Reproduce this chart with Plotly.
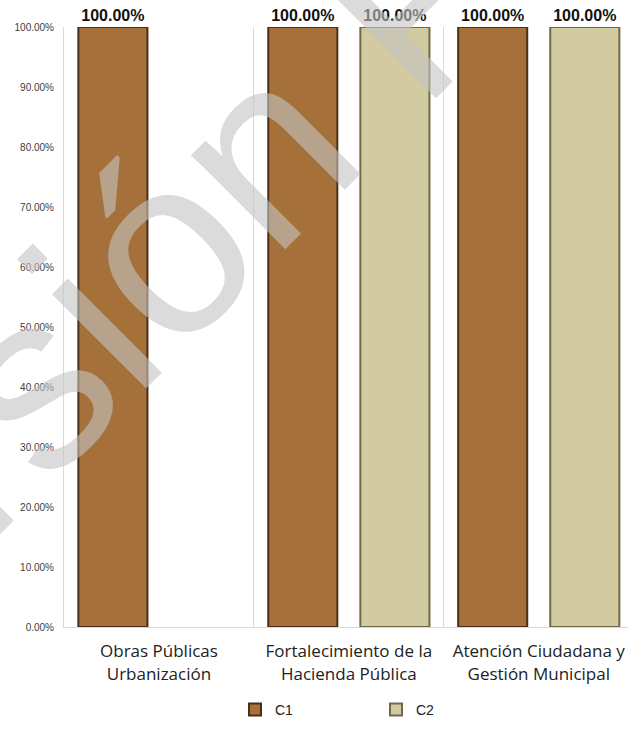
import plotly.graph_objects as go

categories = ["Obras Públicas<br>Urbanización",
              "Fortalecimiento de la<br>Hacienda Pública",
              "Atención Ciudadana y<br>Gestión Municipal"]
c1_values = [1.0, 1.0, 1.0]
c2_values = [None, 1.0, 1.0]
series_names = ["C1", "C2"]
y_ticks = [0, 0.1, 0.2, 0.3, 0.4, 0.5, 0.6, 0.7, 0.8, 0.9, 1.0]
y_tick_labels = ["0.00%", "10.00%", "20.00%", "30.00%", "40.00%", "50.00%",
                 "60.00%", "70.00%", "80.00%", "90.00%", "100.00%"]
watermark = "Versión Pública"

def labels(vals):
    return ["" if v is None else f"{v*100:.2f}%" for v in vals]

fig = go.Figure()
fig.add_trace(go.Bar(
    x=categories, y=c1_values, name=series_names[0],
    marker=dict(color="#A6703A", line=dict(color="#4A2F15", width=2)),
    text=labels(c1_values), textposition="outside", cliponaxis=False,
    textfont=dict(family="Liberation Sans", size=16, color="#111111"),
))
fig.add_trace(go.Bar(
    x=categories, y=c2_values, name=series_names[1],
    marker=dict(color="#D2CAA0", line=dict(color="#6E6A48", width=2)),
    text=labels(c2_values), textposition="outside", cliponaxis=False,
    textfont=dict(family="Liberation Sans", size=16, color="#111111"),
))

fig.update_traces(texttemplate="<b>%{text}</b>")

fig.add_annotation(
    text=watermark, xref="paper", yref="paper",
    x=(330 - 64) / 564, y=1 - (80 - 27) / 600,
    xanchor="center", yanchor="middle", showarrow=False,
    textangle=-45,
    font=dict(family="Liberation Sans", size=252, color="rgba(195,195,195,0.6)"),
)

fig.update_layout(
    width=628, height=729,
    margin=dict(l=64, r=0, t=27, b=102),
    paper_bgcolor="white", plot_bgcolor="white",
    barmode="group", bargap=0.03, bargroupgap=0.25,
    font=dict(family="Open Sans", color="#222222"),
    legend=dict(orientation="h", x=(235 - 64) / 564, xanchor="left",
                y=-(710 - 627) / 600, yanchor="middle",
                entrywidth=96, itemwidth=30,
                font=dict(family="Liberation Sans", size=14, color="#222222")),
    showlegend=True,
)
fig.update_xaxes(
    range=[-0.5, 2.47], tickson="boundaries", showgrid=True,
    gridcolor="#D9D9D9", gridwidth=1,
    showline=True, linecolor="#D9D9D9", linewidth=1,
    ticks="", ticklabelstandoff=9,
    tickfont=dict(family="Open Sans", size=17, color="#222222"),
    fixedrange=True,
)
fig.update_yaxes(
    range=[0, 1], tickvals=y_ticks, ticktext=y_tick_labels,
    showgrid=False, zeroline=False, ticklabelstandoff=7,
    showline=True, linecolor="#D9D9D9", linewidth=1,
    ticks="", tickfont=dict(family="Liberation Sans", size=10, color="#404040"),
)

fig.write_html("out.html", config={"displayModeBar": False},
               post_script="document.body.style.margin='0';")
